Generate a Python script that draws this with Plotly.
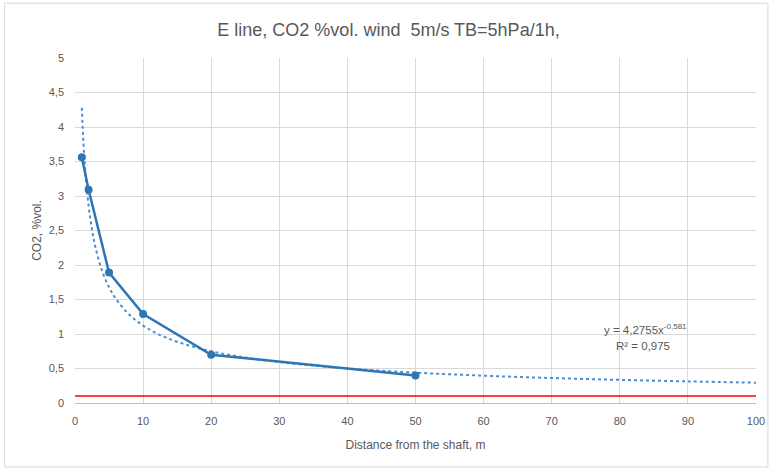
import plotly.graph_objects as go

# Measured data
distance = [1, 2, 5, 10, 20, 50]
co2 = [3.56, 3.09, 1.89, 1.29, 0.70, 0.40]

# Power trendline (y = 4,2755x^-0,581)
trend_x = [1, 1.25, 1.5, 2, 2.5, 3, 4, 5, 6, 8, 10, 12, 15, 20, 25, 30, 40, 50, 60, 70, 80, 90, 100]
trend_y = [4.28, 3.756, 3.378, 2.858, 2.511, 2.258, 1.911, 1.679, 1.510, 1.278, 1.122, 1.009, 0.887,
           0.750, 0.659, 0.593, 0.501, 0.440, 0.396, 0.362, 0.335, 0.313, 0.294]

# Limit line
limit_x = [0, 100]
limit_y = [0.1, 0.1]

blue = "#2E75B6"
grey_text = "#595959"
font_family = "Liberation Sans Narrow, Liberation Sans, Arial, sans-serif"

fig = go.Figure()
fig.add_trace(go.Scatter(x=limit_x, y=limit_y, mode="lines",
                         line=dict(color="#FF0000", width=1.5), showlegend=False))
fig.add_trace(go.Scatter(x=trend_x, y=trend_y, mode="lines", line_shape="spline",
                         line=dict(color="#4A8ED0", width=2, dash="dot"), showlegend=False))
fig.add_trace(go.Scatter(x=distance, y=co2, mode="lines+markers",
                         line=dict(color=blue, width=2.5),
                         marker=dict(color=blue, size=8), showlegend=False))

fig.update_layout(
    width=777, height=472,
    margin=dict(l=75, r=15, t=58, b=69),
    paper_bgcolor="white", plot_bgcolor="white",
    separators=", ",
    font=dict(family=font_family, color=grey_text, size=11),
    title=dict(text="E line, CO2 %vol. wind  5m/s TB=5hPa/1h,",
               x=0.5, xref="container", xanchor="center", y=1 - 30 / 472, yanchor="middle",
               font=dict(size=18, color=grey_text, family=font_family)),
    xaxis=dict(range=[0, 100], dtick=10, tick0=0, showgrid=True, gridcolor="#D9D9D9",
               zeroline=False, showline=True, linecolor="#BFBFBF", linewidth=1,
               ticks="", ticklabelstandoff=8,
               title=dict(text="Distance from the shaft, m", font=dict(size=12, color=grey_text), standoff=14)),
    yaxis=dict(range=[0, 5], dtick=0.5, tick0=0, showgrid=True, gridcolor="#D9D9D9",
               zeroline=False, showline=False, ticks="", ticklabelstandoff=10,
               title=dict(text="CO2, %vol.", font=dict(size=12, color=grey_text), standoff=4)),
    shapes=[dict(type="rect", xref="paper", yref="paper",
                 x0=-0.1033, x1=1.0175, y0=-0.1855, y1=1.159,
                 line=dict(color="#D9D9D9", width=1), layer="below")],
    annotations=[
        dict(x=83.7, y=1.07, xref="x", yref="y", showarrow=False,
             text="y = 4,2755x<sup>-0,581</sup>", font=dict(size=11.5, color=grey_text)),
        dict(x=83.4, y=0.83, xref="x", yref="y", showarrow=False,
             text="R² = 0,975", font=dict(size=11.5, color=grey_text)),
    ],
)

fig.write_html("out.html")
